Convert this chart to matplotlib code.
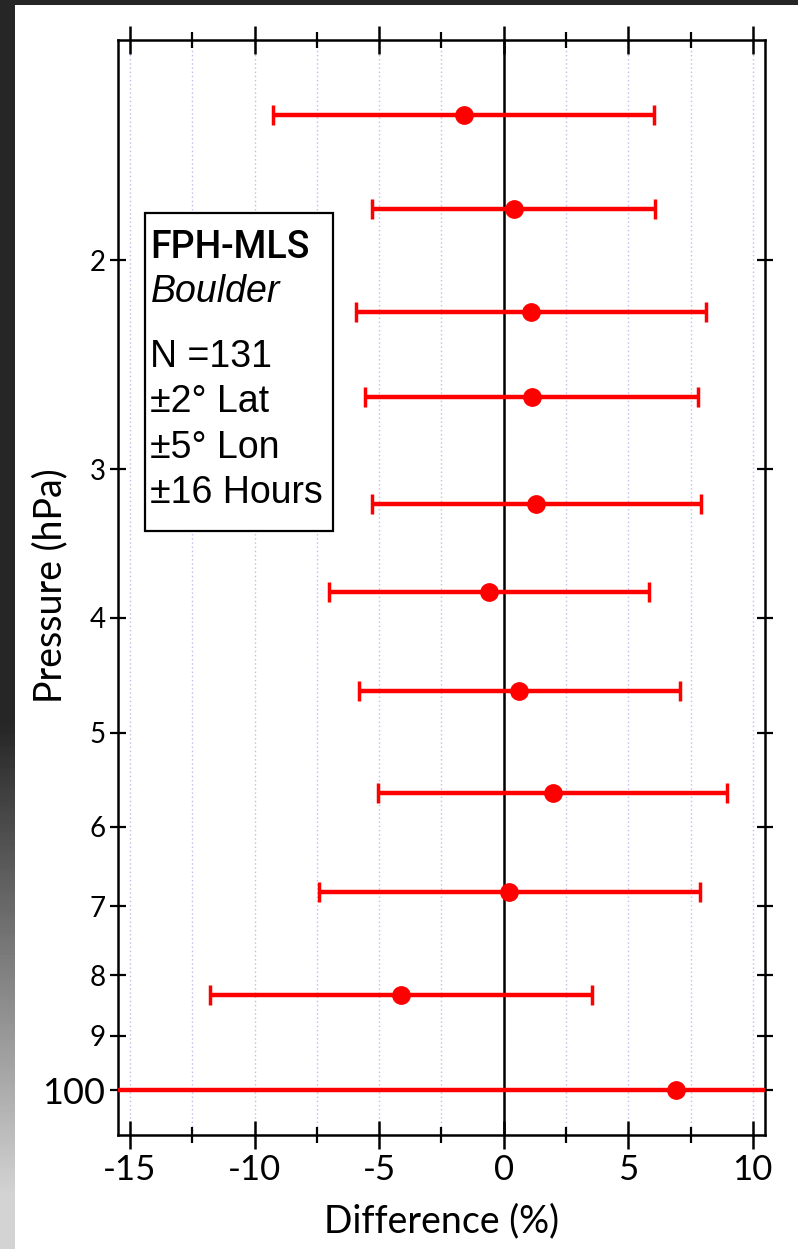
import matplotlib
matplotlib.use("Agg")
import matplotlib.pyplot as plt
from matplotlib.patches import Rectangle
import numpy as np

# pressure levels (hPa) and FPH - MLS differences (%)
pressure = [15.1, 18.1, 22.1, 26.1, 32.1, 38.1, 46.1, 56.2, 68.1, 83.1, 100.0]
diff_mean = [-1.60, 0.41, 1.11, 1.13, 1.31, -0.59, 0.63, 1.97, 0.22, -4.11, 6.92]
diff_err = [7.65, 5.68, 7.02, 6.68, 6.61, 6.42, 6.43, 7.01, 7.65, 7.66, 24.0]

xticks = [-15, -10, -5, 0, 5, 10]
ytick_vals = [20, 30, 40, 50, 60, 70, 80, 90, 100]
ytick_labels = ["2", "3", "4", "5", "6", "7", "8", "9", "100"]
box_lines = ["N =131", "\u00b12\u00b0 Lat", "\u00b15\u00b0 Lon", "\u00b116 Hours"]

FONT = ["Lato", "DejaVu Sans"]
BOXFONT = ["Liberation Sans", "DejaVu Sans"]

W, H = 798, 1249
fig = plt.figure(figsize=(W / 100, H / 100), dpi=100, facecolor="white")

# dark frame pieces at the top and left edge of the screenshot
top = fig.add_axes([0, 1 - 5 / H, 1, 5 / H])
top.set_axis_off()
top.add_patch(Rectangle((0, 0), 1, 1, color="#262626", transform=top.transAxes))
side = fig.add_axes([0, 0, 15 / W, 1])
side.set_axis_off()
ys = np.linspace(0, 1, 400)
shade = np.clip((ys - 0.58) / 0.38, 0, 1)
col = 0.15 + 0.68 * shade
side.imshow(np.repeat(col[:, None], 2, axis=1), cmap="gray", vmin=0, vmax=1,
            aspect="auto", origin="upper", extent=[0, 1, 1, 0])
side.set_xlim(0, 1)
side.set_ylim(1, 0)

ax = fig.add_axes([118 / W, 1 - 1135 / H, (765 - 118) / W, (1135 - 40) / H])
ax.set_yscale("log")
ax.set_xlim(-15.48, 10.49)
ax.set_ylim(109.1, 13.05)

# light dotted grid at every 2.5 %
for gx in np.arange(-15, 10.1, 2.5):
    ax.axvline(gx, color="#bdbdf0", lw=1.0, ls=(0, (1, 2)), zorder=0)
ax.axvline(0, color="black", lw=1.8, zorder=1)

ax.errorbar(diff_mean, pressure, xerr=diff_err, fmt="o", color="#ff0000",
            ms=12.5, elinewidth=3.2, capsize=7, capthick=2.5, zorder=3)

for s in ax.spines.values():
    s.set_linewidth(1.8)

ax.set_xticks(xticks)
ax.set_xticks(np.arange(-12.5, 10, 5), minor=True)
ax.set_xticklabels([str(t) for t in xticks], fontsize=25, family=FONT)
ax.tick_params(axis="x", which="major", direction="inout", length=20, width=1.8,
               top=True, bottom=True, pad=4)
ax.tick_params(axis="x", which="minor", direction="inout", length=11, width=1.6,
               top=True, bottom=True)

ax.yaxis.set_minor_locator(matplotlib.ticker.NullLocator())
ax.set_yticks(ytick_vals)
ax.set_yticklabels(ytick_labels, family=FONT)
for lab, txt in zip(ax.get_yticklabels(), ytick_labels):
    lab.set_fontsize(26 if txt == "100" else 20)
ax.tick_params(axis="y", which="major", direction="inout", length=12, width=1.6,
               left=True, right=True, pad=3)

ax.set_xlabel("Difference (%)", fontsize=27, family=FONT, labelpad=12)
fig.text(50 / W, 1 - 586 / H, "Pressure (hPa)", fontsize=27, family=FONT,
         rotation=90, ha="center", va="center")

# info box
bx0, by0, bx1, by1 = 145, 213, 333, 531
fig.add_artist(Rectangle((bx0 / W, 1 - by1 / H), (bx1 - bx0) / W, (by1 - by0) / H,
                         transform=fig.transFigure, fill=True, facecolor="white",
                         edgecolor="black", lw=1.6, zorder=5))
fig.text(150 / W, 1 - 247 / H, "FPH-MLS", fontsize=27, weight="medium",
         family=["Roboto", "DejaVu Sans"], va="center", ha="left", zorder=6)
fig.text(151 / W, 1 - 292 / H, "Boulder", fontsize=27, style="italic", family=BOXFONT,
         va="center", ha="left", zorder=6)
for i, line in enumerate(box_lines):
    fig.text(150 / W, 1 - (357 + 45.5 * i) / H, line, fontsize=27, family=BOXFONT,
             va="center", ha="left", zorder=6)

fig.savefig("out.png", dpi=100, facecolor="white")
